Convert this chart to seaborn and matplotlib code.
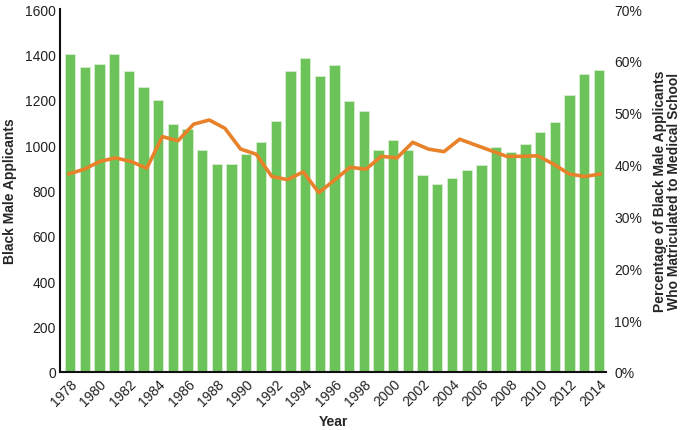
import matplotlib
matplotlib.use("Agg")
import matplotlib.pyplot as plt
import seaborn as sns
import pandas as pd
import numpy as np

years = list(range(1978, 2015))
applicants = [1400, 1345, 1360, 1402, 1327, 1256, 1199, 1093, 1071, 978,
              917, 917, 961, 1014, 1106, 1327, 1384, 1305, 1353, 1194,
              1150, 978, 1022, 978, 868, 829, 855, 890, 912, 992,
              970, 1005, 1058, 1102, 1221, 1313, 1331]
# matriculation percentage series (35 points spanning the chart width)
pct = [38.2, 39.1, 40.6, 41.3, 40.6, 39.3, 45.4, 44.6, 47.8, 48.6,
       47.0, 43.0, 42.0, 37.7, 37.1, 38.6, 34.6, 37.0, 39.5, 39.1,
       41.6, 41.3, 44.3, 43.0, 42.5, 44.9, 43.8, 42.7, 41.6, 41.6,
       41.7, 40.1, 38.2, 37.7, 38.2]
yticks_left = [0, 200, 400, 600, 800, 1000, 1200, 1400, 1600]
yticks_right = [0, 10, 20, 30, 40, 50, 60, 70]

sns.set_theme(style="white")
plt.rcParams['font.family'] = ['Liberation Sans', 'DejaVu Sans']

fig = plt.figure(figsize=(6.85, 4.31), dpi=100)
pos = [0.0876, 0.1346, 0.797, 0.842]
ax = fig.add_axes(pos)

df = pd.DataFrame({"Year": [str(y) for y in years], "Applicants": applicants})
sns.barplot(data=df, x="Year", y="Applicants", ax=ax, color="#6cc35a",
            saturation=1, width=0.7, edgecolor="#d8eed2", linewidth=0.6)
ax.set_ylim(0, 1600)
ax.set_xlim(-0.68, 36.48)
ax.set_yticks(yticks_left)
ax.set_yticklabels([str(v) for v in yticks_left], fontsize=10, color="#222222")
labels = [str(y) if (y - 1978) % 2 == 0 else "" for y in years]
ax.set_xticks(range(len(years)))
ax.set_xticklabels(labels, rotation=45, ha="right", rotation_mode="anchor",
                   fontsize=10, color="#222222")
ax.tick_params(axis="both", length=0, pad=3)
ax.set_xlabel("Year", fontsize=10, fontweight="bold", labelpad=4)
ax.set_ylabel("Black Male Applicants", fontsize=10, fontweight="bold", labelpad=6)
for s in ["top", "right"]:
    ax.spines[s].set_visible(False)
for s in ["left", "bottom"]:
    ax.spines[s].set_color("#111111")
    ax.spines[s].set_linewidth(1.5)

# line axis overlay with its own x scale, percent on right
ax2 = fig.add_axes(pos, frameon=False)
n = len(pct)
scale = (n - 1) / (len(years) - 1)
ax2.set_xlim(-0.68 * scale + 0.1, (n - 1) + 0.48 * scale - 0.1)
sns.lineplot(x=list(range(n)), y=pct, ax=ax2, color="#e8822a", linewidth=2.6)
ax2.set_ylim(0, 70)
ax2.set_xticks([])
ax2.yaxis.tick_right()
ax2.yaxis.set_label_position("right")
ax2.set_yticks(yticks_right)
ax2.set_yticklabels([f"{v}%" for v in yticks_right], fontsize=10, color="#222222")
ax2.tick_params(axis="y", length=0, pad=6)
ax2.set_xlabel("")
ax2.set_ylabel("Percentage of Black Male Applicants\nWho Matriculated to Medical School",
               fontsize=10, fontweight="bold", labelpad=8, linespacing=1.0)

fig.savefig("out.png", dpi=100)
